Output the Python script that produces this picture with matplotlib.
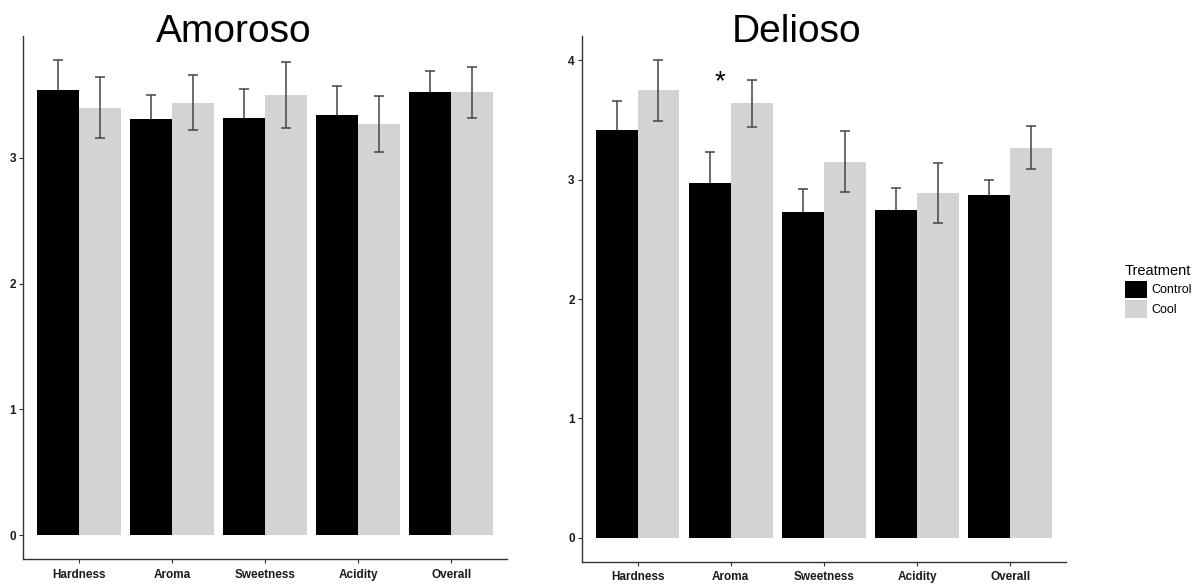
import numpy as np
import matplotlib
matplotlib.use('Agg')
import matplotlib.pyplot as plt
from matplotlib.patches import Patch

plt.rcParams['font.family'] = ['Liberation Sans', 'DejaVu Sans']

# data (mean, standard error)
attributes = ['Hardness', 'Aroma', 'Sweetness', 'Acidity', 'Overall']

amoroso_control = [3.54, 3.31, 3.32, 3.34, 3.52]
amoroso_control_se = [0.24, 0.19, 0.23, 0.235, 0.17]
amoroso_cool = [3.40, 3.44, 3.50, 3.27, 3.52]
amoroso_cool_se = [0.245, 0.22, 0.26, 0.22, 0.20]

delioso_control = [3.42, 2.97, 2.73, 2.75, 2.87]
delioso_control_se = [0.24, 0.26, 0.19, 0.185, 0.13]
delioso_cool = [3.75, 3.64, 3.15, 2.89, 3.27]
delioso_cool_se = [0.255, 0.195, 0.255, 0.25, 0.177]

ctrl_col = 'black'
cool_col = '#d3d3d3'
err_col = '#444444'

fig = plt.figure(figsize=(12.03, 5.86), dpi=100)
ax1 = fig.add_axes([0.0191, 0.0461, 0.4023, 0.8925])
ax2 = fig.add_axes([0.4835, 0.0415, 0.4026, 0.8971])


def panel(ax, ctrl, ctrl_se, cool, cool_se):
    x = np.arange(len(attributes))
    w = 0.45
    ax.bar(x - w/2, ctrl, width=w, color=ctrl_col, zorder=2)
    ax.bar(x + w/2, cool, width=w, color=cool_col, zorder=2)
    # lower half of control bars' errorbars disappears into the black bar
    ax.errorbar(x - w/2, ctrl, yerr=ctrl_se, fmt='none', ecolor=err_col,
                elinewidth=1.1, capsize=3.3, capthick=1.1, zorder=1)
    ax.errorbar(x + w/2, cool, yerr=cool_se, fmt='none', ecolor=err_col,
                elinewidth=1.1, capsize=3.3, capthick=1.1, zorder=3)
    hi = max(max(np.array(ctrl) + np.array(ctrl_se)), max(np.array(cool) + np.array(cool_se)))
    ax.set_ylim(-0.05*hi, hi*1.05)
    ax.set_xlim(-0.6, len(attributes) - 0.4)
    ax.set_xticks(x)
    ax.set_xticklabels(attributes, fontsize=8.5, fontweight='bold')
    ax.set_yticks([0, 1, 2, 3, 4] if hi > 4 - 1e-9 else [0, 1, 2, 3])
    for lab in ax.get_yticklabels():
        lab.set_fontweight('bold')
        lab.set_fontsize(8.5)
    for s in ['top', 'right']:
        ax.spines[s].set_visible(False)
    for s in ['left', 'bottom']:
        ax.spines[s].set_color('#333333')
        ax.spines[s].set_linewidth(1.0)
    ax.tick_params(length=3, width=0.8, color='#333333', pad=2, labelcolor='#1a1a1a')
    ax.tick_params(axis='x', pad=4)


panel(ax1, amoroso_control, amoroso_control_se, amoroso_cool, amoroso_cool_se)
panel(ax2, delioso_control, delioso_control_se, delioso_cool, delioso_cool_se)

# significance mark
ax2.text(attributes.index('Aroma') - 0.12, 3.82, '*', fontsize=20, ha='center', va='center')

fig.text(234/1203, 1 - 42/586, 'Amoroso', fontsize=28, ha='center', va='baseline')
fig.text(797/1203, 1 - 42/586, 'Delioso', fontsize=28, ha='center', va='baseline')

handles = [Patch(facecolor=ctrl_col, label='Control'), Patch(facecolor=cool_col, label='Cool')]
leg = fig.legend(handles=handles, title='Treatment', loc='upper left',
                 bbox_to_anchor=(1125/1203, 1 - 264/586), frameon=False,
                 fontsize=9, title_fontsize=10.5, handlelength=1.75, handleheight=1.75,
                 handletextpad=0.35, labelspacing=0.2, borderpad=0, borderaxespad=0,
                 alignment='left')

fig.savefig('out.png', dpi=100)
